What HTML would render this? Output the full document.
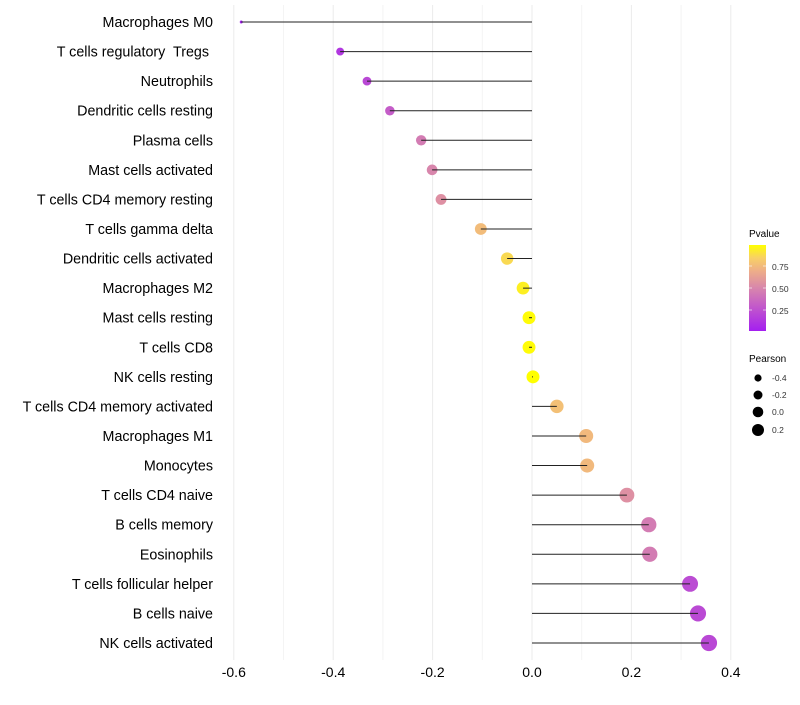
<!DOCTYPE html>
<html><head><meta charset="utf-8"><style>
body{margin:0;background:#fff;font-family:"Liberation Sans",Arial,sans-serif}
</style></head><body>
<svg id="chart" width="800" height="700" xmlns="http://www.w3.org/2000/svg" font-family="Liberation Sans, Arial, sans-serif">
<defs><linearGradient id="pg" x1="0" y1="1" x2="0" y2="0">
<stop offset="0" stop-color="#a41ff0"/><stop offset="0.3" stop-color="#c45cc8"/><stop offset="0.5" stop-color="#d886ac"/><stop offset="0.7" stop-color="#eeae88"/><stop offset="0.85" stop-color="#f8d066"/><stop offset="1" stop-color="#ffff00"/></linearGradient></defs>
<g id="grid"></g><g id="marks"></g><g id="labels"></g>
<g>
<text x="749" y="237" font-size="10">Pvalue</text>
<rect x="749" y="245" width="17" height="86" fill="url(#pg)"/>
<line x1="749" y1="266" x2="752" y2="266" stroke="#fff" opacity="0.6"/><line x1="763" y1="266" x2="766" y2="266" stroke="#fff" opacity="0.6"/>
<line x1="749" y1="288" x2="752" y2="288" stroke="#fff" opacity="0.6"/><line x1="763" y1="288" x2="766" y2="288" stroke="#fff" opacity="0.6"/>
<line x1="749" y1="310" x2="752" y2="310" stroke="#fff" opacity="0.6"/><line x1="763" y1="310" x2="766" y2="310" stroke="#fff" opacity="0.6"/>
<text x="772" y="270" font-size="8.5" fill="#333">0.75</text>
<text x="772" y="292" font-size="8.5" fill="#333">0.50</text>
<text x="772" y="314" font-size="8.5" fill="#333">0.25</text>
</g>
<g>
<text x="749" y="362" font-size="10">Pearson</text>
<circle cx="758" cy="378" r="3.6"/><text x="772" y="381" font-size="8.5" fill="#333">-0.4</text>
<circle cx="758" cy="395" r="4.5"/><text x="772" y="398" font-size="8.5" fill="#333">-0.2</text>
<circle cx="758" cy="412" r="5.3"/><text x="772" y="415" font-size="8.5" fill="#333">0.0</text>
<circle cx="758" cy="430" r="6"/><text x="772" y="433" font-size="8.5" fill="#333">0.2</text>
</g>
</svg>
<script>
const categories=["Macrophages M0","T cells regulatory\u00a0 Tregs\u00a0","Neutrophils","Dendritic cells resting","Plasma cells","Mast cells activated","T cells CD4 memory resting","T cells gamma delta","Dendritic cells activated","Macrophages M2","Mast cells resting","T cells CD8","NK cells resting","T cells CD4 memory activated","Macrophages M1","Monocytes","T cells CD4 naive","B cells memory","Eosinophils","T cells follicular helper","B cells naive","NK cells activated"];
const pearson=[-0.585,-0.386,-0.332,-0.286,-0.223,-0.201,-0.183,-0.103,-0.050,-0.018,-0.006,-0.006,0.002,0.050,0.109,0.111,0.191,0.235,0.237,0.318,0.334,0.356];
const pvalues=[0.0,0.12,0.2,0.3,0.45,0.5,0.55,0.76,0.88,0.95,0.99,0.99,1.0,0.78,0.75,0.75,0.55,0.45,0.45,0.22,0.21,0.2];
const xTicks=[-0.6,-0.4,-0.2,0.0,0.2,0.4];
const xTickLabels=["-0.6","-0.4","-0.2","0.0","0.2","0.4"];
const NS="http://www.w3.org/2000/svg";
const x=v=>532+v*497;
const y=i=>22+i*29.57;
const stops=[[0,[164,31,240]],[0.3,[196,92,200]],[0.5,[216,134,172]],[0.7,[238,174,136]],[0.85,[248,208,102]],[1,[255,255,0]]];
function col(p){for(let k=1;k<stops.length;k++){if(p<=stops[k][0]){const a=stops[k-1],b=stops[k],t=(p-a[0])/(b[0]-a[0]);return "rgb("+a[1].map((c,j)=>Math.round(c+(b[1][j]-c)*t)).join(",")+")";}}return "rgb(255,255,0)";}
const minV=Math.min(...pearson);
const rad=v=>Math.sqrt(2.25+68*(v-minV));
function mk(t,a,p){const e=document.createElementNS(NS,t);for(const k in a)e.setAttribute(k,a[k]);p.appendChild(e);return e;}
const grid=document.getElementById('grid'),marks=document.getElementById('marks'),labels=document.getElementById('labels');
for(let v=-0.6;v<=0.41;v+=0.1){const g=mk('line',{x1:x(v),x2:x(v),y1:5,y2:660,stroke:Math.abs((Math.round(v*10))%2)===0?'#ebebeb':'#f4f4f4','stroke-width':1},grid);

}
xTicks.forEach((v,i)=>{const t=mk('text',{x:x(v),y:677,'font-size':14,'text-anchor':'middle'},labels);t.textContent=xTickLabels[i];

});
categories.forEach((c,i)=>{
const t=mk('text',{x:213,y:y(i)+5,'font-size':14.3,'text-anchor':'end'},labels);t.textContent=c;


const d=mk('circle',{cx:x(pearson[i]),cy:y(i),r:rad(pearson[i]),fill:col(pvalues[i])},marks);


const l=mk('line',{x1:x(0),x2:x(pearson[i]),y1:y(i),y2:y(i),stroke:'#222','stroke-width':1},marks);


});
</script>
</body></html>
